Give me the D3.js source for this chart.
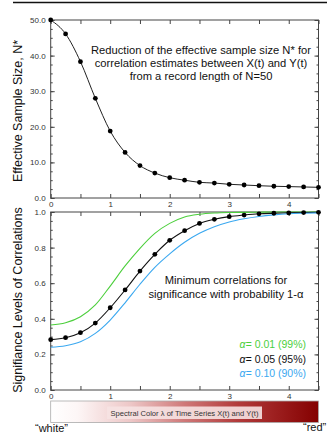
<!DOCTYPE html>
<html>
<head>
<meta charset="utf-8">
<script src="https://cdn.jsdelivr.net/npm/d3@7"></script>
<style>
  body { margin: 0; background: #fff; }
  svg { display: block; font-family: "Liberation Sans", Arial, sans-serif; }
</style>
</head>
<body>
<div id="chart"></div>
<script>
// values
const lambda = [0, 0.25, 0.5, 0.75, 1, 1.25, 1.5, 1.75, 2, 2.25, 2.5, 2.75, 3, 3.25, 3.5, 3.75, 4, 4.25, 4.5];
const nEff = [50.0, 46.1, 38.3, 28.0, 18.8, 12.8, 9.1, 7.0, 5.7, 5.0, 4.4, 4.2, 3.85, 3.65, 3.45, 3.3, 3.2, 3.1, 3.0];
const r99 = [0.365, 0.378, 0.412, 0.478, 0.584, 0.697, 0.796, 0.88, 0.936, 0.972, 0.987, 0.994, 0.997, 0.998, 0.999, 1, 1, 1, 1];
const r95 = [0.283, 0.294, 0.322, 0.376, 0.462, 0.562, 0.668, 0.762, 0.841, 0.895, 0.936, 0.959, 0.974, 0.983, 0.99, 0.993, 0.995, 0.997, 0.998];
const r90 = [0.24, 0.249, 0.271, 0.318, 0.393, 0.49, 0.594, 0.689, 0.765, 0.83, 0.88, 0.917, 0.944, 0.962, 0.975, 0.984, 0.99, 0.993, 0.995];

const xTicks = [0, 1, 2, 3, 4];
const xMinor = [0, 0.5, 1, 1.5, 2, 2.5, 3, 3.5, 4, 4.5];
const yTopTicks = [0, 10, 20, 30, 40, 50];
const yBotTicks = [0, 0.2, 0.4, 0.6, 0.8, 1.0];

const legendItems = [
  {label: "0.01 (99%)", color: "#4ccf3c", data: r99},
  {label: "0.05 (95%)", color: "#111", data: r95},
  {label: "0.10 (90%)", color: "#3aa8f0", data: r90}
];

const width = 327, height = 434;
const left = 50.7, right = 318.5;

const svg = d3.select("#chart").append("svg")
  .attr("width", width)
  .attr("height", height);

const x = d3.scaleLinear().domain([0, 4.5]).range([left, right]);
const yTop = d3.scaleLinear().domain([0, 50]).range([198, 20]);
const yBot = d3.scaleLinear().domain([0, 1]).range([390, 212]);

// rule at the very top
svg.append("line")
  .attr("x1", 13).attr("x2", width)
  .attr("y1", 2.5).attr("y2", 2.5)
  .attr("stroke", "#111").attr("stroke-width", 1.5);

function frame(y, majors, minorStep, fmt) {
  const [y0, y1] = y.range();
  const g = svg.append("g");
  g.append("rect")
    .attr("x", left).attr("y", y1)
    .attr("width", right - left).attr("height", y0 - y1)
    .attr("fill", "none").attr("stroke", "#444").attr("stroke-width", 1);

  const minors = d3.range(y.domain()[0], y.domain()[1] + minorStep / 2, minorStep);

  // left axis, labelled
  g.append("g").attr("transform", `translate(${left},0)`)
    .call(d3.axisLeft(y).tickValues(majors).tickSize(-4).tickPadding(5).tickFormat(d3.format(fmt)));
  g.append("g").attr("transform", `translate(${left},0)`)
    .call(d3.axisLeft(y).tickValues(minors).tickSize(-2).tickFormat(""));
  // right axis
  g.append("g").attr("transform", `translate(${right},0)`)
    .call(d3.axisRight(y).tickValues(majors).tickSize(-4).tickFormat(""));
  g.append("g").attr("transform", `translate(${right},0)`)
    .call(d3.axisRight(y).tickValues(minors).tickSize(-2).tickFormat(""));
  // bottom axis, labelled
  g.append("g").attr("transform", `translate(0,${y0})`)
    .call(d3.axisBottom(x).tickValues(xMinor).tickSize(-4).tickPadding(3)
      .tickFormat(d => xTicks.includes(d) ? d3.format("d")(d) : ""));
  // top axis
  g.append("g").attr("transform", `translate(0,${y1})`)
    .call(d3.axisTop(x).tickValues(xMinor).tickSize(-4).tickFormat(""));

  g.selectAll(".domain").remove();
  g.selectAll(".tick line").attr("stroke", "#444");
  g.selectAll(".tick text").attr("font-size", 8).attr("fill", "#333")
    .attr("font-family", "Liberation Sans, Arial, sans-serif");
  return g;
}

// ---- top panel: effective sample size
frame(yTop, yTopTicks, 2.5, ".1f");

svg.append("path")
  .datum(lambda.map((l, i) => [l, nEff[i]]))
  .attr("fill", "none").attr("stroke", "#222").attr("stroke-width", 1)
  .attr("d", d3.line().x(d => x(d[0])).y(d => yTop(d[1])).curve(d3.curveMonotoneX));

svg.selectAll("circle.n")
  .data(lambda.map((l, i) => [l, nEff[i]]))
  .enter().append("circle")
  .attr("class", "n")
  .attr("cx", d => x(d[0])).attr("cy", d => yTop(d[1]))
  .attr("r", 2.4).attr("fill", "#000");

const topNote = ["Reduction of the effective sample size N* for",
  "correlation estimates between X(t) and Y(t)",
  "from a record length of N=50"];
svg.append("g").selectAll("text").data(topNote).enter().append("text")
  .attr("x", 201).attr("y", (d, i) => 54 + i * 13)
  .attr("text-anchor", "middle").attr("font-size", 11.2).attr("fill", "#111")
  .text(d => d);

svg.append("text")
  .attr("transform", "translate(22,111) rotate(-90)")
  .attr("text-anchor", "middle").attr("font-size", 12.5).attr("fill", "#111")
  .text("Effective Sample Size, N*");

// ---- bottom panel: significance levels
frame(yBot, yBotTicks, 0.05, ".1f");

const sigLine = d3.line().x(d => x(d[0])).y(d => yBot(d[1])).curve(d3.curveMonotoneX);
svg.append("g").selectAll("path").data(legendItems).enter().append("path")
  .attr("fill", "none").attr("stroke", d => d.color).attr("stroke-width", 1.1)
  .attr("d", d => sigLine(lambda.map((l, i) => [l, d.data[i]])));

svg.selectAll("circle.r")
  .data(lambda.map((l, i) => [l, r95[i]]))
  .enter().append("circle")
  .attr("class", "r")
  .attr("cx", d => x(d[0])).attr("cy", d => yBot(d[1]))
  .attr("r", 2.4).attr("fill", "#000");

const botNote = ["Minimum correlations for", "significance with probability 1-\u03b1"];
svg.append("g").selectAll("text").data(botNote).enter().append("text")
  .attr("x", 226).attr("y", (d, i) => 284 + i * 13.5)
  .attr("text-anchor", "middle").attr("font-size", 11.2).attr("fill", "#111")
  .text(d => d);

const leg = svg.append("g").selectAll("text").data(legendItems).enter().append("text")
  .attr("x", 306).attr("y", (d, i) => 348 + i * 14.5)
  .attr("text-anchor", "end").attr("font-size", 10.5).attr("fill", d => d.color);
leg.append("tspan").attr("font-style", "italic").text("\u03b1= ");
leg.append("tspan").text(d => d.label);

svg.append("text")
  .attr("transform", "translate(22,300) rotate(-90)")
  .attr("text-anchor", "middle").attr("font-size", 12.5).attr("fill", "#111")
  .text("Signifiance Levels of Correlations");

// ---- colour bar
const defs = svg.append("defs");
const grad = defs.append("linearGradient").attr("id", "spec");
[[0, "#ffffff"], [0.1, "#fdf6f6"], [0.3, "#edc6c6"], [0.5, "#cf7878"], [0.7, "#b23a3a"], [1, "#840000"]]
  .forEach(([o, c]) => grad.append("stop").attr("offset", o).attr("stop-color", c));

svg.append("rect")
  .attr("x", x(0)).attr("y", 401)
  .attr("width", x(4.5) - x(0)).attr("height", 21.5)
  .attr("fill", "url(#spec)").attr("stroke", "#aaa").attr("stroke-width", 0.8);

svg.append("rect")
  .attr("x", 107).attr("y", 406.5).attr("width", 155).attr("height", 12.5)
  .attr("fill", "#f6e2e2").attr("fill-opacity", 0.9);
svg.append("text")
  .attr("x", 184.5).attr("y", 415.5)
  .attr("text-anchor", "middle").attr("font-size", 7.6).attr("fill", "#333")
  .text("Spectral Color \u03bb of Time Series X(t) and Y(t)");

svg.append("text").attr("x", 35).attr("y", 432)
  .attr("font-size", 11).attr("fill", "#111").text("\u201cwhite\u201d");
svg.append("text").attr("x", 303).attr("y", 431)
  .attr("font-size", 11).attr("fill", "#111").text("\u201cred\u201d");
</script>
</body>
</html>
